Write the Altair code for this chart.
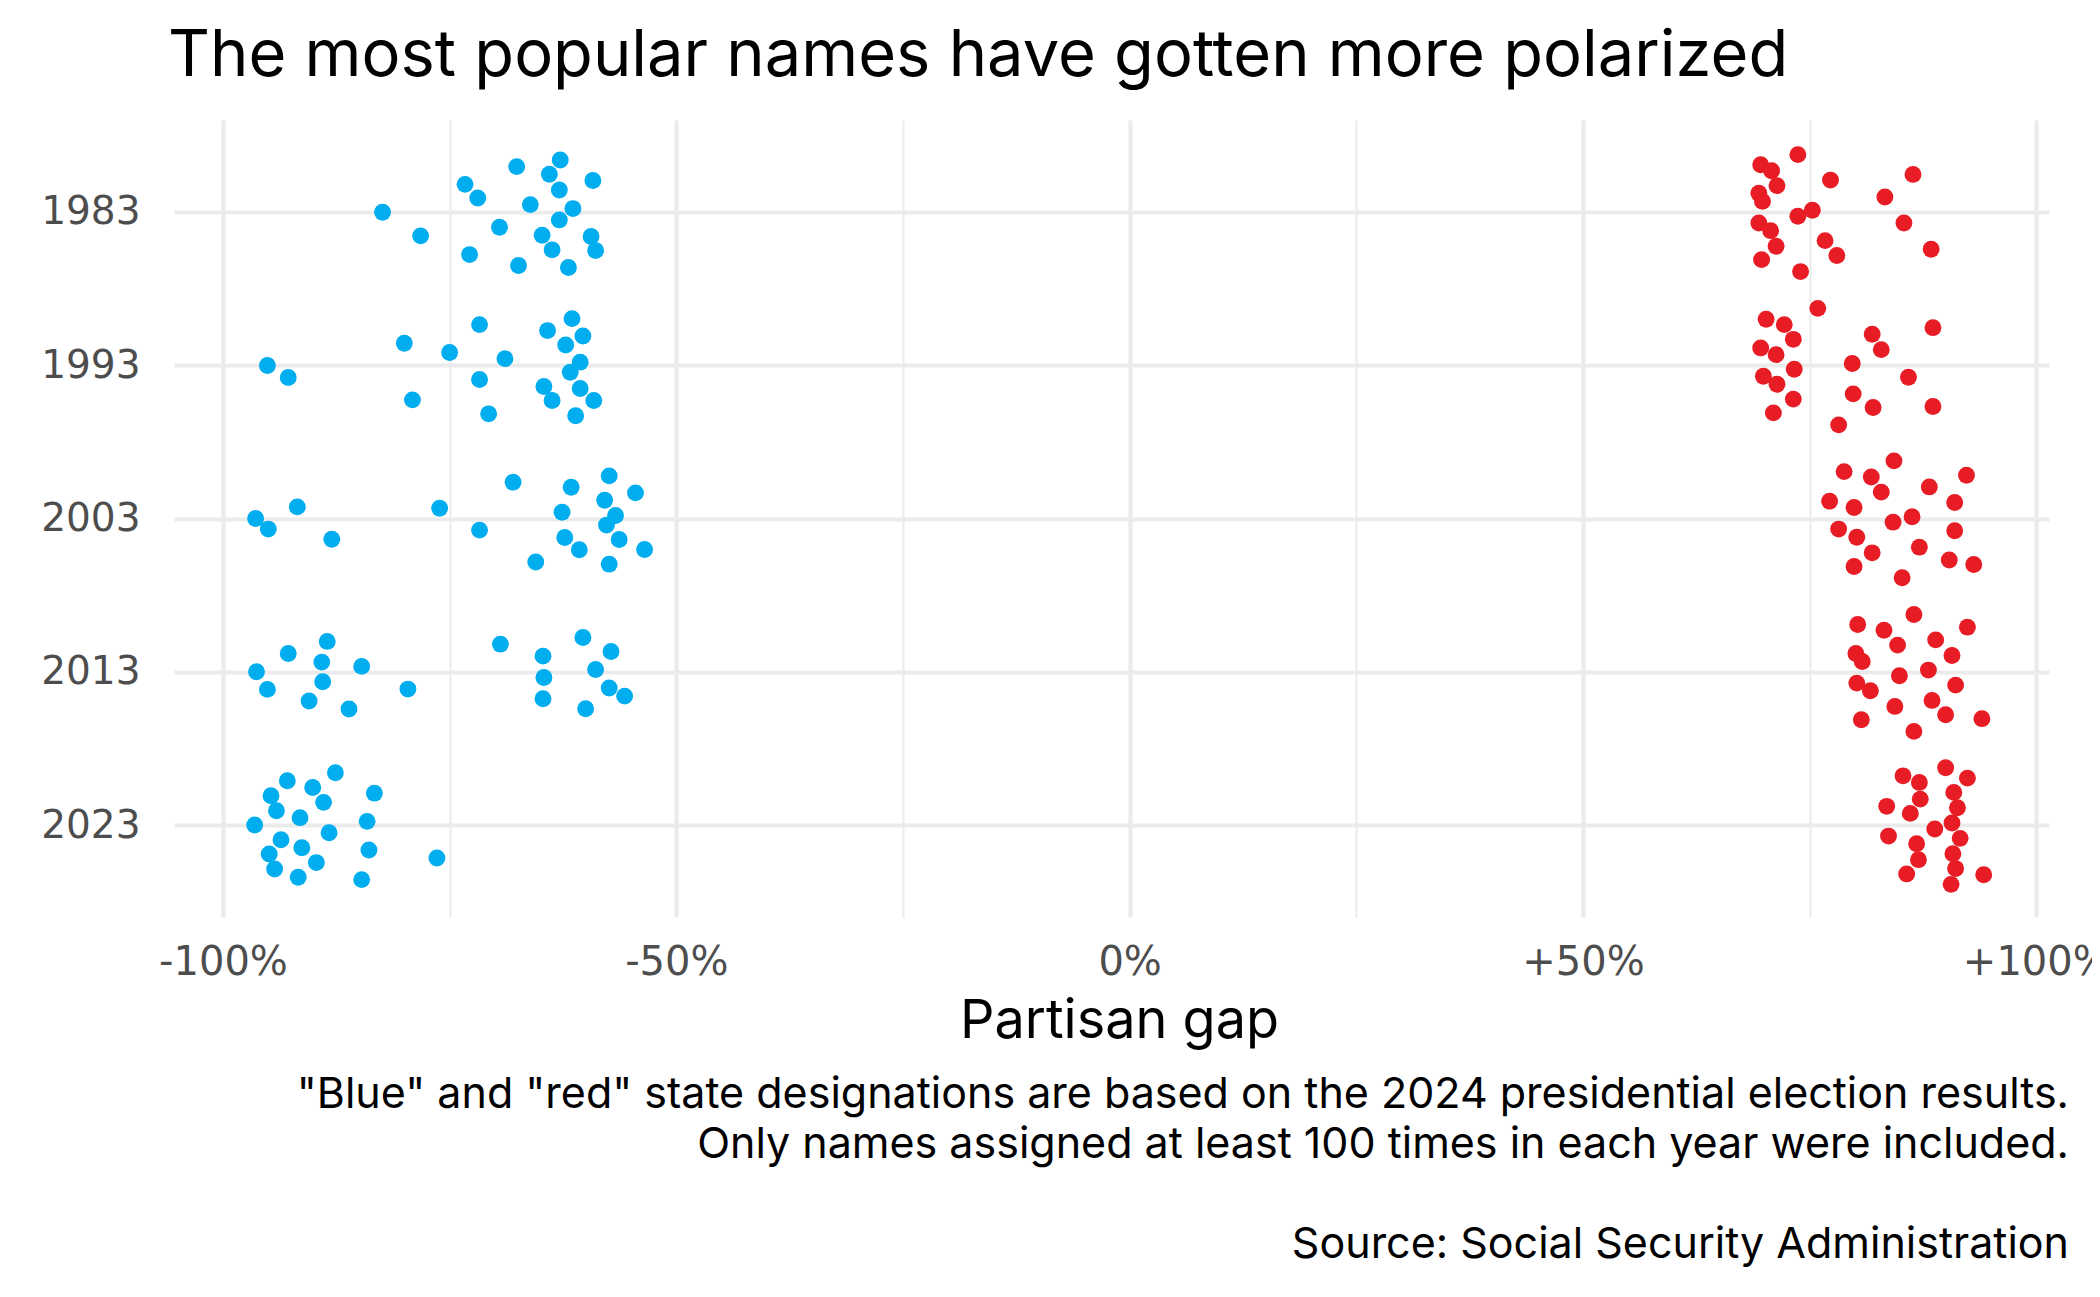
import altair as alt
import pandas as pd

# ---------------- data ----------------
years = [1983, 1993, 2003, 2013, 2023]
x_ticks = [-100, -75, -50, -25, 0, 25, 50, 75, 100]

blue_1983_gap = [-82.4, -78.2, -73.3, -71.9, -72.8, -69.5, -67.6, -67.4, -66.1, -64.0,
                 -62.8, -62.9, -61.4, -62.9, -64.8, -63.7, -61.9, -59.2, -59.4, -58.9]
blue_1983_jit = [0.02, 1.56, -1.80, -0.91, 2.78, 1.00, -2.96, 3.49, -0.48, -2.46,
                 -3.39, -1.43, -0.22, 0.52, 1.52, 2.47, 3.62, -2.05, 1.60, 2.52]

blue_1993_gap = [-95.1, -92.8, -80.0, -79.1, -75.0, -71.7, -68.9, -71.7, -70.7, -64.2,
                 -61.5, -60.3, -62.2, -60.6, -61.7, -64.6, -60.6, -63.7, -59.1, -61.1]
blue_1993_jit = [0.02, 0.80, -1.43, 2.26, -0.83, -2.65, -0.43, 0.93, 3.17, -2.26,
                 -3.04, -1.91, -1.32, -0.20, 0.46, 1.39, 1.52, 2.30, 2.30, 3.30]

blue_2003_gap = [-96.4, -95.0, -91.8, -88.0, -76.1, -71.7, -68.0, -65.5, -61.6, -62.6,
                 -62.3, -60.7, -57.4, -57.9, -56.7, -57.7, -54.5, -56.3, -57.4, -53.5]
blue_2003_jit = [0.00, 0.69, -0.76, 1.35, -0.67, 0.76, -2.37, 2.84, -2.04, -0.41,
                 1.24, 2.04, -2.78, -1.19, -0.20, 0.43, -1.67, 1.37, 2.98, 2.02]

blue_2013_gap = [-96.3, -95.1, -92.8, -88.5, -89.1, -89.0, -90.5, -84.7, -86.1, -79.6,
                 -69.4, -64.7, -64.6, -64.7, -60.3, -57.2, -58.9, -57.4, -55.7, -60.0]
blue_2013_jit = [0.00, 1.15, -1.19, -1.98, -0.63, 0.65, 1.91, -0.35, 2.43, 1.13,
                 -1.80, -1.02, 0.37, 1.76, -2.24, -1.32, -0.15, 1.06, 1.59, 2.41]

blue_2023_gap = [-96.5, -94.7, -92.9, -94.1, -91.5, -90.1, -87.6, -88.9, -83.3, -84.1,
                 -88.3, -93.6, -94.9, -91.3, -94.3, -91.7, -89.7, -83.9, -84.7, -76.4]
blue_2023_jit = [0.00, -1.91, -2.89, -0.93, -0.48, -2.45, -3.41, -1.48, -2.08, -0.24,
                 0.50, 0.96, 1.89, 1.48, 2.87, 3.41, 2.45, 1.63, 3.56, 2.15]

red_1983_gap = [69.6, 70.8, 71.4, 69.4, 69.8, 73.7, 77.3, 73.7, 75.3, 69.4,
                70.7, 71.3, 69.7, 74.0, 76.7, 78.0, 83.3, 86.4, 85.4, 88.4]
red_1983_jit = [-3.08, -2.69, -1.72, -1.22, -0.69, -3.74, -2.08, 0.28, -0.11, 0.72,
                1.22, 2.24, 3.11, 3.89, 1.87, 2.84, -0.98, -2.45, 0.72, 2.43]

red_1993_gap = [70.2, 72.2, 73.2, 69.6, 71.3, 73.3, 69.9, 71.4, 73.2, 71.0,
                75.9, 79.7, 81.9, 82.9, 79.8, 82.0, 78.2, 85.9, 88.6, 88.6]
red_1993_jit = [-3.00, -2.65, -1.69, -1.13, -0.69, 0.26, 0.72, 1.24, 2.21, 3.11,
                -3.71, -0.11, -2.02, -1.02, 1.87, 2.76, 3.89, 0.78, -2.45, 2.69]

red_2003_gap = [78.8, 81.8, 84.3, 82.9, 77.2, 79.9, 78.2, 80.2, 81.9, 79.9,
                84.2, 86.3, 88.2, 91.0, 92.3, 91.0, 87.1, 90.4, 93.1, 85.2]
red_2003_jit = [-3.06, -2.71, -3.76, -1.72, -1.13, -0.72, 0.69, 1.22, 2.24, 3.13,
                0.24, -0.11, -2.06, -1.04, -2.82, 0.80, 1.87, 2.71, 3.00, 3.87]

red_2013_gap = [80.3, 83.2, 86.5, 84.7, 80.1, 80.8, 88.9, 92.4, 90.7, 84.9,
                88.1, 80.2, 81.7, 91.1, 84.4, 88.5, 90.0, 80.7, 86.5, 94.0]
red_2013_jit = [-3.08, -2.71, -3.74, -1.74, -1.19, -0.67, -2.08, -2.91, -1.06, 0.26,
                -0.11, 0.74, 1.24, 0.87, 2.26, 1.87, 2.80, 3.13, 3.89, 3.06]

red_2023_gap = [85.3, 87.1, 87.2, 86.1, 83.5, 83.7, 86.8, 87.0, 85.7, 90.0,
                92.4, 90.9, 91.3, 90.7, 88.8, 91.6, 90.8, 91.1, 90.6, 94.2]
red_2023_jit = [-3.21, -2.78, -1.69, -0.76, -1.22, 0.72, 1.22, 2.26, 3.19, -3.74,
                -3.06, -2.13, -1.13, -0.13, 0.26, 0.87, 1.87, 2.84, 3.87, 3.24]

title_text = "The most popular names have gotten more polarized"
x_title = "Partisan gap"
caption_1 = '"Blue" and "red" state designations are based on the 2024 presidential election results.'
caption_2 = "Only names assigned at least 100 times in each year were included."
caption_3 = "Source: Social Security Administration"

# ---------------- build table ----------------
series = {
    ("blue", 1983): (blue_1983_gap, blue_1983_jit),
    ("blue", 1993): (blue_1993_gap, blue_1993_jit),
    ("blue", 2003): (blue_2003_gap, blue_2003_jit),
    ("blue", 2013): (blue_2013_gap, blue_2013_jit),
    ("blue", 2023): (blue_2023_gap, blue_2023_jit),
    ("red", 1983): (red_1983_gap, red_1983_jit),
    ("red", 1993): (red_1993_gap, red_1993_jit),
    ("red", 2003): (red_2003_gap, red_2003_jit),
    ("red", 2013): (red_2013_gap, red_2013_jit),
    ("red", 2023): (red_2023_gap, red_2023_jit),
}
rows = []
for (party, yr), (gaps, jits) in series.items():
    for g, j in zip(gaps, jits):
        rows.append({"party": party, "year": yr, "gap": g, "ypos": yr + j})
df = pd.DataFrame(rows)

W, H = 1875, 797
SANS = "Inter"
TICKFONT = "DejaVu Sans"

points = alt.Chart(df).mark_circle(size=285, opacity=1).encode(
    x=alt.X("gap:Q",
            scale=alt.Scale(domain=[-105.4, 101.4], nice=False, zero=False),
            axis=alt.Axis(values=x_ticks,
                          labelExpr="datum.value % 50 === 0 ? (datum.value > 0 ? '+' : '') + datum.value + '%' : ''",
                          grid=True, gridColor="#ebebeb",
                          gridWidth={"condition": {"test": "datum.value % 50 === 0", "value": 4.2}, "value": 2.1},
                          ticks=False, tickSize=0, domain=False,
                          labelFont=TICKFONT, labelFontSize=40, labelColor="#4d4d4d",
                          labelPadding=25,
                          title=x_title, titleFont=SANS, titleFontSize=54,
                          titleFontWeight="normal", titleColor="black",
                          titleBaseline="alphabetic", titleY=120, titleX=945)),
    y=alt.Y("ypos:Q",
            scale=alt.Scale(domain=[1977, 2029], reverse=True, nice=False, zero=False),
            axis=alt.Axis(values=years, format="d", grid=True, gridColor="#ebebeb",
                          gridWidth=4.2, ticks=False, tickSize=0, domain=False,
                          labelFont=TICKFONT, labelFontSize=39, labelColor="#4d4d4d",
                          labelPadding=34, title=None)),
    color=alt.Color("party:N",
                    scale=alt.Scale(domain=["blue", "red"], range=["#00aeef", "#e81c24"]),
                    legend=None),
)

one = alt.Data(values=[{}])


def cap(txt, yv):
    return alt.Chart(one).mark_text(
        text=txt, align="right", baseline="alphabetic", font=SANS, fontSize=43,
        color="black"
    ).encode(x=alt.value(W + 20), y=alt.value(yv))


chart = alt.layer(
    points,
    cap(caption_1, 988),
    cap(caption_2, 1038),
    cap(caption_3, 1138),
).properties(
    width=W, height=H,
    background="white",
    title=alt.TitleParams(text=title_text, anchor="start", frame="group",
                          font=SANS, fontSize=65, fontWeight="normal",
                          color="black", offset=30, dx=-6),
    autosize=alt.AutoSizeParams(type="none"),
    padding={"left": 166, "top": 112, "right": 43, "bottom": 360},
).configure_view(stroke=None)

chart.save("out.html", embed_options={"renderer": "svg", "actions": False})
